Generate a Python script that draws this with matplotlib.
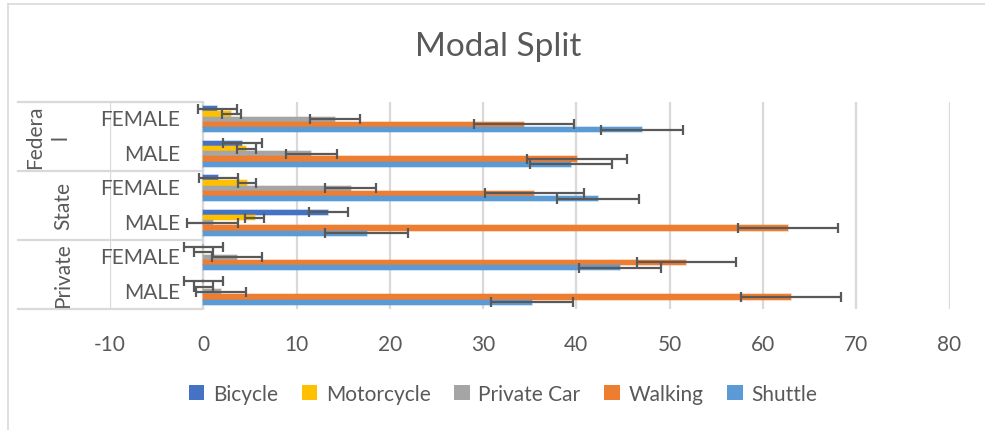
import matplotlib
matplotlib.use("Agg")
import matplotlib.pyplot as plt
import matplotlib.transforms as mtransforms
from matplotlib.patches import Patch
from matplotlib.lines import Line2D
import numpy as np

plt.rcParams['font.family'] = ['Lato', 'DejaVu Sans']

# categories listed bottom to top
groups = ["Private", "State", "Federa\nl"]
subcats = ["MALE", "FEMALE"]
series = ["Bicycle", "Motorcycle", "Private Car", "Walking", "Shuttle"]
colors = ["#4472C4", "#FFC000", "#A5A5A5", "#ED7D31", "#5B9BD5"]

# order: Private MALE, Private FEMALE, State MALE, State FEMALE, Federal MALE, Federal FEMALE
bicycle     = [0.0, 0.0, 13.4, 1.6, 4.2, 1.5]
motorcycle  = [0.0, 0.0, 5.5, 4.7, 4.6, 3.0]
private_car = [1.9, 3.6, 1.0, 15.8, 11.6, 14.1]
walking     = [63.0, 51.8, 62.7, 35.5, 40.1, 34.4]
shuttle     = [35.2, 44.7, 17.5, 42.3, 39.4, 47.0]

err_bicycle     = [2.1, 2.1, 2.1, 2.1, 2.1, 2.1]
err_motorcycle  = [1.0, 1.0, 1.0, 1.0, 1.0, 1.0]
err_private_car = [2.7, 2.7, 2.7, 2.7, 2.7, 2.7]
err_walking     = [5.35, 5.35, 5.35, 5.35, 5.35, 5.35]
err_shuttle     = [4.4, 4.4, 4.4, 4.4, 4.4, 4.4]

values = [bicycle, motorcycle, private_car, walking, shuttle]
errors = [err_bicycle, err_motorcycle, err_private_car, err_walking, err_shuttle]

xticks = [-10, 0, 10, 20, 30, 40, 50, 60, 70, 80]

W, H = 985, 431
fig = plt.figure(figsize=(W / 100, H / 100), dpi=100)
text_color = "#595959"
grid_color = "#D9D9D9"
fs = 15

ax_left, ax_right, ax_top, ax_bottom = 110, 949.5, 103, 310
ax = fig.add_axes([ax_left / W, 1 - ax_bottom / H, (ax_right - ax_left) / W, (ax_bottom - ax_top) / H])

n_cat = len(bicycle)
y = np.arange(n_cat)
bh = 0.15
for i, (name, vals, errs, c) in enumerate(zip(series, values, errors, colors)):
    off = (2 - i) * bh
    ax.barh(y + off, vals, height=bh, color=c, edgecolor=matplotlib.colors.to_rgba(c, 0.35),
            linewidth=1.2, zorder=3, label=name)
    ax.errorbar(vals, y + off, xerr=errs, fmt="none", ecolor="#595959", elinewidth=1.6,
                capsize=3.6, capthick=1.6, zorder=4)

ax.set_xlim(xticks[0], xticks[-1])
ax.set_ylim(-0.5, n_cat - 0.5)
ax.set_xticks(xticks)
ax.set_xticklabels([str(t) for t in xticks])
ax.tick_params(axis='x', length=0, pad=18, labelsize=fs, labelcolor=text_color)
ax.set_yticks([])
for s in ax.spines.values():
    s.set_visible(False)
ax.grid(axis='x', color=grid_color, linewidth=1.6, zorder=0)
ax.set_axisbelow(True)
ax.axvline(0, color=grid_color, linewidth=1.6, zorder=2)

# category label area
trans = mtransforms.blended_transform_factory(fig.transFigure, ax.transData)
x_lab_left = 18 / W
x_axis = (ax_left + (0 - xticks[0]) / (xticks[-1] - xticks[0]) * (ax_right - ax_left)) / W
for yb in [-0.5, 1.5, 3.5, 5.5]:
    fig.add_artist(Line2D([x_lab_left, x_axis], [yb, yb], transform=trans, color=grid_color, lw=1.6))

k = 0
for g_i, g in enumerate(groups):
    for s_i, s in enumerate(subcats):
        ax.text(180 / W, k, s, transform=trans, ha='right', va='center', fontsize=fs, color=text_color)
        k += 1
    gy = g_i * 2 + 0.5
    gx = 48 / W if "\n" in g else 63 / W
    ax.text(gx, gy, g, transform=trans, ha='center', va='center', rotation=90, fontsize=fs,
            color=text_color, linespacing=1.35, multialignment='center')

# chart border (partially cropped)
fig.add_artist(Line2D([7.5 / W, 7.5 / W], [0, 1 - 5 / H], transform=fig.transFigure, color=grid_color, lw=1.2))
fig.add_artist(Line2D([7.5 / W, 1], [1 - 5 / H, 1 - 5 / H], transform=fig.transFigure, color=grid_color, lw=1.2))

fig.text(498 / W, 1 - 47 / H, "Modal Split", ha='center', va='center', fontsize=24, color=text_color)

handles = [Patch(facecolor=c, edgecolor='none') for c in colors]
fig.legend(handles, series, loc='center', bbox_to_anchor=(503 / W, 1 - 395 / H), ncol=5, frameon=False,
           fontsize=fs, handlelength=0.75, handleheight=0.75, handletextpad=0.4, columnspacing=1.15,
           labelcolor=text_color)

fig.savefig("out.png", dpi=100)
